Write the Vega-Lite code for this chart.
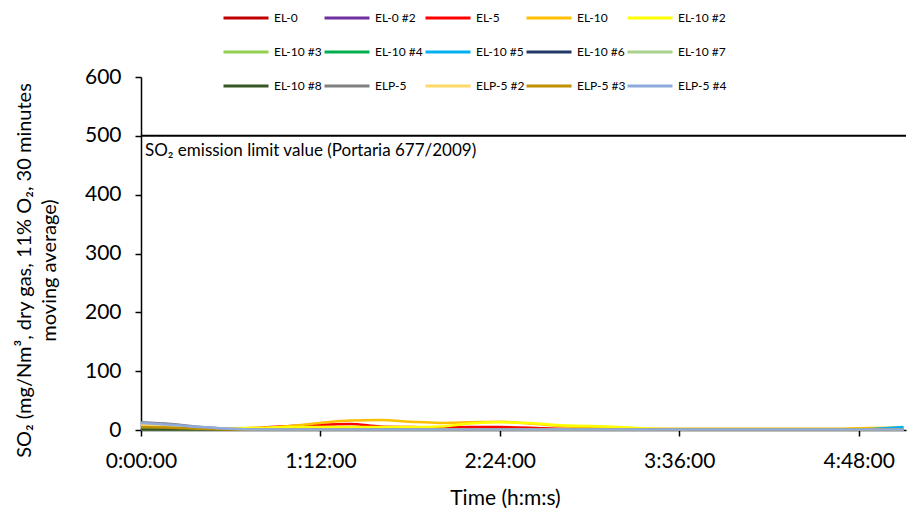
{
  "$schema": "https://vega.github.io/schema/vega-lite/v6.json",
  "width": 765,
  "height": 353,
  "autosize": {"type": "none"},
  "padding": {"left": 141, "top": 77, "right": 12, "bottom": 83},
  "background": "white",
  "config": {
    "view": {"stroke": null},
    "font": "Lato",
    "axis": {"labelFont": "Lato", "titleFont": "Lato", "labelColor": "#000", "titleColor": "#000", "domainColor": "#000", "tickColor": "#000", "grid": false, "titleFontWeight": "normal", "domainWidth": 1.5, "tickWidth": 1.5},
    "legend": {"labelFont": "Lato", "labelColor": "#000"}
  },
  "datasets": {
    "series": [
      {"s": "EL-0", "t": 0, "v": 3}, {"s": "EL-0", "t": 12, "v": 2}, {"s": "EL-0", "t": 24, "v": 1}, {"s": "EL-0", "t": 60, "v": 1}, {"s": "EL-0", "t": 120, "v": 1}, {"s": "EL-0", "t": 180, "v": 1}, {"s": "EL-0", "t": 240, "v": 1}, {"s": "EL-0", "t": 306, "v": 1},
      {"s": "EL-0 #2", "t": 0, "v": 2}, {"s": "EL-0 #2", "t": 12, "v": 1.5}, {"s": "EL-0 #2", "t": 24, "v": 1}, {"s": "EL-0 #2", "t": 120, "v": 1}, {"s": "EL-0 #2", "t": 240, "v": 1}, {"s": "EL-0 #2", "t": 306, "v": 1},
      {"s": "EL-5", "t": 0, "v": 4}, {"s": "EL-5", "t": 12, "v": 3}, {"s": "EL-5", "t": 24, "v": 2}, {"s": "EL-5", "t": 36, "v": 2}, {"s": "EL-5", "t": 48, "v": 4}, {"s": "EL-5", "t": 60, "v": 7}, {"s": "EL-5", "t": 72, "v": 9}, {"s": "EL-5", "t": 84, "v": 10}, {"s": "EL-5", "t": 96, "v": 6}, {"s": "EL-5", "t": 108, "v": 5}, {"s": "EL-5", "t": 120, "v": 4}, {"s": "EL-5", "t": 132, "v": 5}, {"s": "EL-5", "t": 144, "v": 5}, {"s": "EL-5", "t": 156, "v": 4}, {"s": "EL-5", "t": 168, "v": 2}, {"s": "EL-5", "t": 180, "v": 1}, {"s": "EL-5", "t": 240, "v": 1}, {"s": "EL-5", "t": 306, "v": 1},
      {"s": "EL-10", "t": 0, "v": 7}, {"s": "EL-10", "t": 12, "v": 5}, {"s": "EL-10", "t": 24, "v": 3}, {"s": "EL-10", "t": 36, "v": 2}, {"s": "EL-10", "t": 48, "v": 3}, {"s": "EL-10", "t": 60, "v": 7}, {"s": "EL-10", "t": 72, "v": 12}, {"s": "EL-10", "t": 84, "v": 16}, {"s": "EL-10", "t": 96, "v": 17}, {"s": "EL-10", "t": 108, "v": 14}, {"s": "EL-10", "t": 120, "v": 12}, {"s": "EL-10", "t": 132, "v": 13}, {"s": "EL-10", "t": 144, "v": 14}, {"s": "EL-10", "t": 156, "v": 11}, {"s": "EL-10", "t": 168, "v": 7}, {"s": "EL-10", "t": 180, "v": 4}, {"s": "EL-10", "t": 192, "v": 3}, {"s": "EL-10", "t": 204, "v": 2}, {"s": "EL-10", "t": 240, "v": 2}, {"s": "EL-10", "t": 276, "v": 2}, {"s": "EL-10", "t": 288, "v": 3}, {"s": "EL-10", "t": 300, "v": 4}, {"s": "EL-10", "t": 306, "v": 4},
      {"s": "EL-10 #2", "t": 0, "v": 6}, {"s": "EL-10 #2", "t": 12, "v": 4}, {"s": "EL-10 #2", "t": 24, "v": 2}, {"s": "EL-10 #2", "t": 36, "v": 3}, {"s": "EL-10 #2", "t": 48, "v": 4}, {"s": "EL-10 #2", "t": 60, "v": 5}, {"s": "EL-10 #2", "t": 84, "v": 5}, {"s": "EL-10 #2", "t": 108, "v": 5}, {"s": "EL-10 #2", "t": 120, "v": 6}, {"s": "EL-10 #2", "t": 132, "v": 11}, {"s": "EL-10 #2", "t": 144, "v": 13}, {"s": "EL-10 #2", "t": 156, "v": 12}, {"s": "EL-10 #2", "t": 168, "v": 8}, {"s": "EL-10 #2", "t": 180, "v": 7}, {"s": "EL-10 #2", "t": 192, "v": 5}, {"s": "EL-10 #2", "t": 204, "v": 2}, {"s": "EL-10 #2", "t": 216, "v": 1}, {"s": "EL-10 #2", "t": 306, "v": 1},
      {"s": "EL-10 #3", "t": 0, "v": 2}, {"s": "EL-10 #3", "t": 24, "v": 1}, {"s": "EL-10 #3", "t": 306, "v": 1},
      {"s": "EL-10 #4", "t": 0, "v": 2}, {"s": "EL-10 #4", "t": 24, "v": 1}, {"s": "EL-10 #4", "t": 306, "v": 1},
      {"s": "EL-10 #5", "t": 0, "v": 2}, {"s": "EL-10 #5", "t": 24, "v": 1}, {"s": "EL-10 #5", "t": 288, "v": 1}, {"s": "EL-10 #5", "t": 300, "v": 3.5}, {"s": "EL-10 #5", "t": 306, "v": 5},
      {"s": "EL-10 #6", "t": 0, "v": 1}, {"s": "EL-10 #6", "t": 306, "v": 0.5},
      {"s": "EL-10 #7", "t": 0, "v": 1}, {"s": "EL-10 #7", "t": 306, "v": 0.5},
      {"s": "EL-10 #8", "t": 0, "v": 1}, {"s": "EL-10 #8", "t": 306, "v": 0.5},
      {"s": "ELP-5", "t": 0, "v": 13}, {"s": "ELP-5", "t": 12, "v": 10}, {"s": "ELP-5", "t": 24, "v": 5}, {"s": "ELP-5", "t": 36, "v": 2}, {"s": "ELP-5", "t": 48, "v": 1}, {"s": "ELP-5", "t": 306, "v": 1},
      {"s": "ELP-5 #2", "t": 0, "v": 9}, {"s": "ELP-5 #2", "t": 12, "v": 7}, {"s": "ELP-5 #2", "t": 24, "v": 4}, {"s": "ELP-5 #2", "t": 36, "v": 2}, {"s": "ELP-5 #2", "t": 48, "v": 1}, {"s": "ELP-5 #2", "t": 306, "v": 1},
      {"s": "ELP-5 #3", "t": 0, "v": 5}, {"s": "ELP-5 #3", "t": 12, "v": 4}, {"s": "ELP-5 #3", "t": 24, "v": 2}, {"s": "ELP-5 #3", "t": 36, "v": 1}, {"s": "ELP-5 #3", "t": 306, "v": 1},
      {"s": "ELP-5 #4", "t": 0, "v": 12}, {"s": "ELP-5 #4", "t": 12, "v": 9}, {"s": "ELP-5 #4", "t": 24, "v": 5}, {"s": "ELP-5 #4", "t": 36, "v": 2}, {"s": "ELP-5 #4", "t": 48, "v": 1}, {"s": "ELP-5 #4", "t": 306, "v": 1}
    ],
    "limit": [{"v": 500, "label": "SO₂ emission limit value (Portaria 677/2009)"}]
  },
  "layer": [
    {
      "data": {"name": "limit"},
      "mark": {"type": "rule", "color": "#000", "strokeWidth": 2},
      "encoding": {"y": {"field": "v", "type": "quantitative", "scale": {"domain": [0, 600]}}}
    },
    {
      "data": {"name": "limit"},
      "mark": {"type": "text", "align": "left", "baseline": "middle", "dx": 4, "dy": 15, "fontSize": 17, "font": "Lato", "color": "#000"},
      "encoding": {
        "x": {"datum": 0, "type": "quantitative"},
        "y": {"field": "v", "type": "quantitative"},
        "text": {"field": "label"}
      }
    },
    {
      "data": {"name": "series"},
      "mark": {"type": "line", "strokeWidth": 2.5, "interpolate": "monotone"},
      "encoding": {
        "x": {
          "field": "t", "type": "quantitative",
          "scale": {"domain": [0, 307], "nice": false},
          "axis": {
            "values": [0, 72, 144, 216, 288],
            "labelExpr": "floor(datum.value/60) + ':' + (datum.value%60 < 10 ? '0' : '') + (datum.value%60) + ':00'",
            "labelFontSize": 21, "labelPadding": 14, "tickSize": 6, "labelFlush": false,
            "title": "Time (h:m:s)", "titleFontSize": 21,
            "titleX": 364, "titleY": 68, "titleBaseline": "middle", "titleAnchor": "start", "titleAlign": "center"
          }
        },
        "y": {
          "field": "v", "type": "quantitative",
          "scale": {"domain": [0, 600], "nice": false},
          "axis": {
            "values": [0, 100, 200, 300, 400, 500, 600],
            "labelFontSize": 21, "labelPadding": 14, "tickSize": 6,
            "title": ["SO₂ (mg/Nm³, dry gas, 11% O₂, 30 minutes", "moving average)"],
            "titleFontSize": 20, "titleLineHeight": 25,
            "titleX": -127, "titleY": 193, "titleBaseline": "top", "titleAngle": -90, "titleAlign": "center", "titleAnchor": "start"
          }
        },
        "color": {
          "field": "s", "type": "nominal",
          "scale": {
            "domain": ["EL-0", "EL-0 #2", "EL-5", "EL-10", "EL-10 #2", "EL-10 #3", "EL-10 #4", "EL-10 #5", "EL-10 #6", "EL-10 #7", "EL-10 #8", "ELP-5", "ELP-5 #2", "ELP-5 #3", "ELP-5 #4"],
            "range": ["#C00000", "#7030A0", "#FF0000", "#FFC000", "#FFFF00", "#92D050", "#00B050", "#00B0F0", "#203864", "#A9D18E", "#375623", "#808080", "#FFD966", "#BF9000", "#8FAADC"]
          },
          "legend": {
            "title": null, "orient": "none", "direction": "horizontal", "columns": 5,
            "legendX": 81, "legendY": -83,
            "symbolType": "stroke", "symbolSize": 2025, "symbolStrokeWidth": 3,
            "labelFontSize": 12, "labelOffset": 4, "gridAlign": "all",
            "columnPadding": -5, "rowPadding": 4
          }
        }
      }
    }
  ]
}
